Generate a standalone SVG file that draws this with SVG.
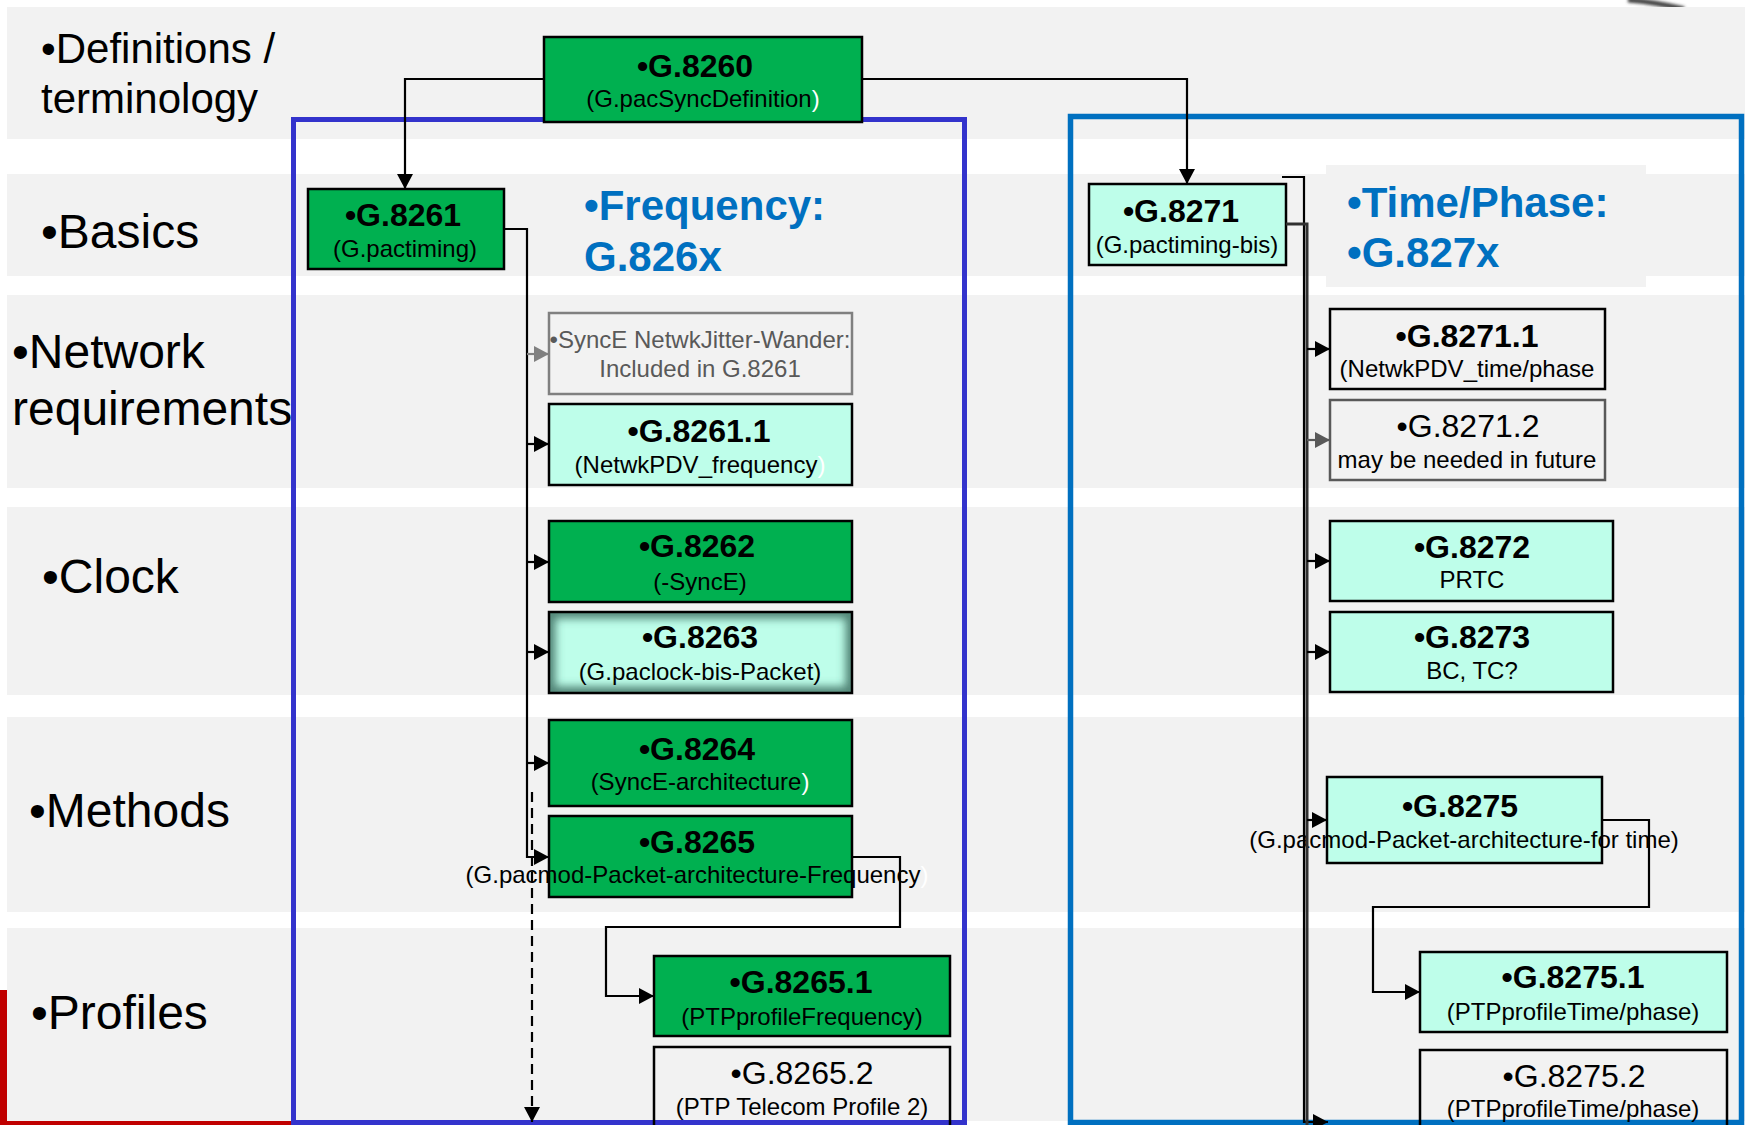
<svg xmlns="http://www.w3.org/2000/svg" width="1745" height="1125" viewBox="0 0 1745 1125">
  <style>
    text { font-family: "Liberation Sans", Arial, sans-serif; }
    .band { fill: #f2f2f2; }
    .row { font-size: 48px; fill: #000; }
    .row42 { font-size: 42px; fill: #000; }
    .head { font-size: 42px; font-weight: bold; fill: #0070c0; }
    .t { font-size: 32px; font-weight: bold; text-anchor: middle; fill: #000; }
    .tr { font-size: 32px; text-anchor: middle; fill: #000; }
    .s { font-size: 24px; text-anchor: middle; fill: #000; }
    .gray { fill: #595959; }
    .g { fill: #00b050; stroke: #000; stroke-width: 2.5; }
    .a { fill: #befeea; stroke: #000; stroke-width: 2.5; }
    .o { fill: none; stroke: #000; stroke-width: 2.5; }
    .wp { fill: #fff; }
    .c { fill: none; stroke: #000; stroke-width: 2.2; }
  </style>
  <defs>
    <marker id="ah" markerUnits="userSpaceOnUse" markerWidth="16" markerHeight="16" refX="15" refY="8" orient="auto">
      <path d="M0,0 L15,8 L0,16 z" fill="#000"/>
    </marker>
    <marker id="ahg" markerUnits="userSpaceOnUse" markerWidth="16" markerHeight="16" refX="15" refY="8" orient="auto">
      <path d="M0,0 L15,8 L0,16 z" fill="#808080"/>
    </marker>
    <marker id="ahd" markerUnits="userSpaceOnUse" markerWidth="16" markerHeight="16" refX="15" refY="8" orient="auto">
      <path d="M0,0 L15,8 L0,16 z" fill="#595959"/>
    </marker>
    <clipPath id="clip8263"><rect x="549" y="612" width="303" height="81"/></clipPath>
    <filter id="soft" x="-20%" y="-20%" width="140%" height="140%"><feGaussianBlur stdDeviation="4.5"/></filter>
    <filter id="soft2" x="-20%" y="-50%" width="140%" height="200%"><feGaussianBlur stdDeviation="1.5"/></filter>
  </defs>

  <!-- page background -->
  <rect x="0" y="0" width="1745" height="1125" fill="#fff"/>
  <!-- logo remnants at the page corners -->
  <path d="M1628,0 Q1655,2 1684,9" fill="none" stroke="#444" stroke-width="5" filter="url(#soft2)"/>
  <rect x="0" y="990" width="8" height="135" fill="#c00000"/>
  <rect x="0" y="1120" width="292" height="5" fill="#c00000"/>

  <!-- row bands -->
  <g id="bands">
    <rect class="band" x="7" y="7" width="1738" height="132"/>
    <rect class="band" x="7" y="174" width="1738" height="102"/>
    <rect class="band" x="7" y="295" width="1738" height="193"/>
    <rect class="band" x="7" y="507" width="1738" height="188"/>
    <rect class="band" x="7" y="717" width="1738" height="195"/>
    <rect class="band" x="7" y="928" width="1738" height="193"/>
  </g>

  <!-- row labels -->
  <g id="row-labels">
    <text class="row42" x="41" y="63">•Definitions /</text>
    <text class="row42" x="41" y="113">terminology</text>
    <text class="row" x="41" y="248">•Basics</text>
    <text class="row" x="12" y="368">•Network</text>
    <text class="row" x="12" y="425">requirements</text>
    <text class="row" x="42" y="593">•Clock</text>
    <text class="row" x="29" y="827">•Methods</text>
    <text class="row" x="31" y="1029">•Profiles</text>
  </g>

  <!-- family frames -->
  <g id="frame-frequency">
    <rect x="293.5" y="119.5" width="671" height="1003" fill="none" stroke="#3333cc" stroke-width="5"/>
    <text class="head" x="584" y="220">•Frequency:</text>
    <text class="head" x="584" y="271">G.826x</text>
  </g>
  <g id="frame-time">
    <rect x="1070.5" y="116.5" width="671" height="1006" fill="none" stroke="#0070c0" stroke-width="5.5"/>
    <rect x="1326" y="165" width="320" height="122" fill="#f2f2f2"/>
    <text class="head" x="1347" y="217">•Time/Phase:</text>
    <text class="head" x="1347" y="267">•G.827x</text>
  </g>

  <!-- nodes -->
  <g id="n8260">
    <rect class="g" x="544" y="37" width="318" height="85"/>
    <text class="t" x="695" y="77">•G.8260</text>
    <text class="s" x="703" y="107">(G.pacSyncDefinition<tspan class="wp">)</tspan></text>
  </g>
  <g id="n8261">
    <rect class="g" x="308" y="189" width="196" height="80"/>
    <text class="t" x="403" y="226">•G.8261</text>
    <text class="s" x="405" y="257">(G.pactiming)</text>
  </g>
  <g id="nSyncE">
    <rect x="549" y="313" width="303" height="81" fill="none" stroke="#808080" stroke-width="2.5"/>
    <text class="s gray" x="700" y="348">•SyncE NetwkJitter-Wander:</text>
    <text class="s gray" x="700" y="377">Included in G.8261</text>
  </g>
  <g id="n8261_1">
    <rect class="a" x="549" y="404" width="303" height="81"/>
    <text class="t" x="699" y="442">•G.8261.1</text>
    <text class="s" x="700" y="473">(NetwkPDV_frequency<tspan class="wp">)</tspan></text>
  </g>
  <g id="n8262">
    <rect class="g" x="549" y="521" width="303" height="81"/>
    <text class="t" x="697" y="557">•G.8262</text>
    <text class="s" x="700" y="590">(-SyncE)</text>
  </g>
  <g id="n8263">
    <rect x="549" y="612" width="303" height="81" fill="#befeea"/>
    <rect x="549" y="612" width="303" height="81" fill="none" stroke="#3d6f60" stroke-opacity="0.85" stroke-width="13" filter="url(#soft)" clip-path="url(#clip8263)"/>
    <rect class="o" x="549" y="612" width="303" height="81"/>
    <text class="t" x="700" y="648">•G.8263</text>
    <text class="s" x="700" y="680">(G.paclock-bis-Packet)</text>
  </g>
  <g id="n8264">
    <rect class="g" x="549" y="720" width="303" height="86"/>
    <text class="t" x="697" y="760">•G.8264</text>
    <text class="s" x="700" y="790">(SyncE-architecture<tspan class="wp">)</tspan></text>
  </g>
  <g id="n8265">
    <rect class="g" x="549" y="816" width="303" height="81"/>
    <text class="t" x="697" y="853">•G.8265</text>
    <text class="s" x="697" y="883">(G.pacmod-Packet-architecture-Frequency<tspan class="wp">)</tspan></text>
  </g>
  <g id="n8265_1">
    <rect class="g" x="654" y="956" width="296" height="80"/>
    <text class="t" x="801" y="993">•G.8265.1</text>
    <text class="s" x="802" y="1025">(PTPprofileFrequency)</text>
  </g>
  <g id="n8265_2">
    <rect class="o" x="654" y="1047" width="296" height="95"/>
    <text class="tr" x="802" y="1084">•G.8265.2</text>
    <text class="s" x="802" y="1115">(PTP Telecom Profile 2)</text>
  </g>
  <g id="n8271">
    <rect class="a" x="1089" y="184" width="197" height="81"/>
    <text class="t" x="1181" y="222">•G.8271</text>
    <text class="s" x="1187" y="253">(G.pactiming-bis)</text>
  </g>
  <g id="n8271_1">
    <rect class="o" x="1330" y="309" width="275" height="80"/>
    <text class="t" x="1467" y="347">•G.8271.1</text>
    <text class="s" x="1467" y="377">(NetwkPDV_time/phase</text>
  </g>
  <g id="n8271_2">
    <rect x="1330" y="400" width="275" height="80" fill="none" stroke="#595959" stroke-width="2.5"/>
    <text class="tr" x="1468" y="437">•G.8271.2</text>
    <text class="s" x="1467" y="468">may be needed in future</text>
  </g>
  <g id="n8272">
    <rect class="a" x="1330" y="521" width="283" height="80"/>
    <text class="t" x="1472" y="558">•G.8272</text>
    <text class="s" x="1472" y="588">PRTC</text>
  </g>
  <g id="n8273">
    <rect class="a" x="1330" y="612" width="283" height="80"/>
    <text class="t" x="1472" y="648">•G.8273</text>
    <text class="s" x="1472" y="679">BC, TC?</text>
  </g>
  <g id="n8275">
    <rect class="a" x="1327" y="777" width="275" height="86"/>
    <text class="t" x="1460" y="817">•G.8275</text>
    <text class="s" x="1464" y="848">(G.pacmod-Packet-architecture-for time)</text>
  </g>
  <g id="n8275_1">
    <rect class="a" x="1420" y="952" width="307" height="80"/>
    <text class="t" x="1573" y="988">•G.8275.1</text>
    <text class="s" x="1573" y="1020">(PTPprofileTime/phase)</text>
  </g>
  <g id="n8275_2">
    <rect class="o" x="1420" y="1050" width="307" height="95"/>
    <text class="tr" x="1574" y="1087">•G.8275.2</text>
    <text class="s" x="1573" y="1117">(PTPprofileTime/phase)</text>
  </g>

  <!-- connectors -->
  <g id="connectors">
    <path class="c" d="M544,79 H405 V189" marker-end="url(#ah)"/>
    <path class="c" d="M862,79 H1187 V184" marker-end="url(#ah)"/>

    <!-- frequency trunk -->
    <path class="c" d="M504,229 H527 V857 H549" marker-end="url(#ah)"/>
    <path d="M527,354 H549" fill="none" stroke="#808080" stroke-width="2.2" marker-end="url(#ahg)"/>
    <path class="c" d="M527,444 H549" marker-end="url(#ah)"/>
    <path class="c" d="M527,562 H549" marker-end="url(#ah)"/>
    <path class="c" d="M527,652 H549" marker-end="url(#ah)"/>
    <path class="c" d="M527,763 H549" marker-end="url(#ah)"/>
    <path class="c" d="M532,792 V1122" stroke-dasharray="10 6" marker-end="url(#ah)"/>
    <path class="c" d="M852,857 H900 V927 H606 V996 H654" marker-end="url(#ah)"/>

    <!-- time/phase trunk: a black bracket line alongside a dark grey line -->
    <path class="c" d="M1282,177 H1304 V1122 H1328" marker-end="url(#ah)"/>
    <path d="M1286,224 H1307 V1125" fill="none" stroke="#303030" stroke-width="3"/>
    <path class="c" d="M1307,349 H1330" marker-end="url(#ah)"/>
    <path d="M1307,440 H1330" fill="none" stroke="#595959" stroke-width="2.2" marker-end="url(#ahd)"/>
    <path class="c" d="M1307,561 H1330" marker-end="url(#ah)"/>
    <path class="c" d="M1307,652 H1330" marker-end="url(#ah)"/>
    <path class="c" d="M1307,820 H1327" marker-end="url(#ah)"/>
    <path class="c" d="M1602,820 H1649 V907 H1373 V992 H1420" marker-end="url(#ah)"/>
  </g>
</svg>
